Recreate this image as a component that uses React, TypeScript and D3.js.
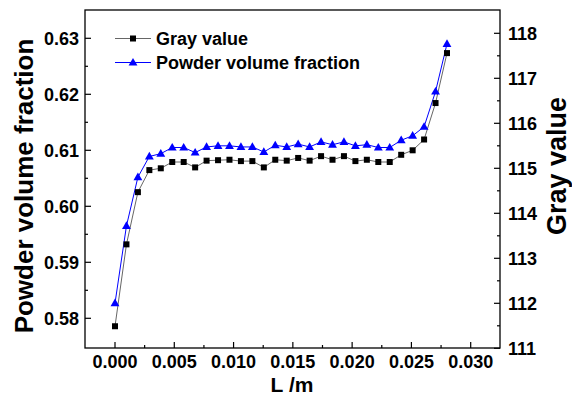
import * as d3 from "d3";

// L positions along the sample (m)
const lengths = [
  0, 0.000966, 0.001931, 0.002897, 0.003862, 0.004828, 0.005793, 0.006759,
  0.007724, 0.00869, 0.009655, 0.010621, 0.011586, 0.012552, 0.013517,
  0.014483, 0.015448, 0.016414, 0.017379, 0.018345, 0.01931, 0.020276,
  0.021241, 0.022207, 0.023172, 0.024138, 0.025103, 0.026069, 0.027034, 0.028,
];

const grayValues = [
  111.49, 113.31, 114.47, 114.96, 115.0, 115.14, 115.14, 115.02, 115.17,
  115.18, 115.19, 115.16, 115.16, 115.02, 115.19, 115.17, 115.23, 115.17,
  115.27, 115.19, 115.27, 115.16, 115.19, 115.14, 115.14, 115.3, 115.4,
  115.64, 116.45, 117.56,
];

const powderFraction = [
  0.5827, 0.5965, 0.6052, 0.6089, 0.6094, 0.6105, 0.6105, 0.6096, 0.6106,
  0.6108, 0.6108, 0.6106, 0.6106, 0.6097, 0.6109, 0.6106, 0.6111, 0.6106,
  0.6115, 0.611, 0.6115, 0.6108, 0.611, 0.6105, 0.6105, 0.6118, 0.6126,
  0.6142, 0.6205, 0.629,
];

const xTicks = [0, 0.005, 0.01, 0.015, 0.02, 0.025, 0.03];
const xMinor = [0.0025, 0.0075, 0.0125, 0.0175, 0.0225, 0.0275];
const leftTicks = [0.58, 0.59, 0.6, 0.61, 0.62, 0.63];
const leftMinor = [0.585, 0.595, 0.605, 0.615, 0.625];
const rightTicks = [111, 112, 113, 114, 115, 116, 117, 118];
const rightMinor = [111.5, 112.5, 113.5, 114.5, 115.5, 116.5, 117.5];

const W = 572;
const H = 397;
const plot = { left: 85, right: 500, top: 10, bottom: 348 };
const FONT = "'Liberation Sans', Arial, sans-serif";
const BLUE = "#0000ff";
const GRAY = "#666";

export default function App() {
  const x = d3.scaleLinear().domain([0, 0.03]).range([115, 470.7]);
  const yL = d3.scaleLinear().domain([0.58, 0.63]).range([318.3, 38.3]);
  const yR = d3.scaleLinear().domain([111, 118]).range([348.3, 33.3]);

  const grayLine = d3
    .line<number>()
    .x((_, i) => x(lengths[i]))
    .y((d) => yR(d));
  const powderLine = d3
    .line<number>()
    .x((_, i) => x(lengths[i]))
    .y((d) => yL(d));

  const tri = d3.symbol(d3.symbolTriangle, 34)();
  const sq = 6;

  return (
    <svg
      width={W}
      height={H}
      style={{ position: "absolute", left: 0, top: 0, background: "#fff" }}
      fontFamily={FONT}
      fontWeight="bold"
    >
      {/* series lines */}
      <path d={grayLine(grayValues) ?? ""} fill="none" stroke={GRAY} strokeWidth={1} />
      <path d={powderLine(powderFraction) ?? ""} fill="none" stroke={BLUE} strokeWidth={1} />

      {/* markers */}
      {grayValues.map((v, i) => (
        <rect
          key={"g" + i}
          x={x(lengths[i]) - sq / 2}
          y={yR(v) - sq / 2}
          width={sq}
          height={sq}
          fill="#000"
        />
      ))}
      {powderFraction.map((v, i) => (
        <path
          key={"p" + i}
          d={tri ?? ""}
          transform={`translate(${x(lengths[i])},${yL(v) + 0.5})`}
          fill={BLUE}
        />
      ))}

      {/* frame */}
      <rect
        x={plot.left}
        y={plot.top}
        width={plot.right - plot.left}
        height={plot.bottom - plot.top}
        fill="none"
        stroke="#000"
        strokeWidth={1.3}
      />

      {/* bottom axis */}
      {xTicks.map((t) => (
        <g key={"xt" + t}>
          <line x1={x(t)} x2={x(t)} y1={plot.bottom} y2={plot.bottom - 6} stroke="#000" strokeWidth={1.2} />
          <text x={x(t)} y={368} textAnchor="middle" fontSize={18}>
            {t.toFixed(3)}
          </text>
        </g>
      ))}
      {xMinor.map((t) => (
        <line key={"xm" + t} x1={x(t)} x2={x(t)} y1={plot.bottom} y2={plot.bottom - 3} stroke="#000" strokeWidth={1.2} />
      ))}

      {/* left axis */}
      {leftTicks.map((t) => (
        <g key={"lt" + t}>
          <line x1={plot.left} x2={plot.left + 6} y1={yL(t)} y2={yL(t)} stroke="#000" strokeWidth={1.2} />
          <text x={79} y={yL(t)} dy="0.35em" textAnchor="end" fontSize={18}>
            {t.toFixed(2)}
          </text>
        </g>
      ))}
      {leftMinor.map((t) => (
        <line key={"lm" + t} x1={plot.left} x2={plot.left + 3} y1={yL(t)} y2={yL(t)} stroke="#000" strokeWidth={1.2} />
      ))}

      {/* right axis */}
      {rightTicks.map((t) => (
        <g key={"rt" + t}>
          <line x1={plot.right} x2={plot.right - 6} y1={yR(t)} y2={yR(t)} stroke="#000" strokeWidth={1.2} />
          <text x={508} y={yR(t)} dy="0.35em" textAnchor="start" fontSize={18}>
            {t}
          </text>
        </g>
      ))}
      {rightMinor.map((t) => (
        <line key={"rm" + t} x1={plot.right} x2={plot.right - 3} y1={yR(t)} y2={yR(t)} stroke="#000" strokeWidth={1.2} />
      ))}

      {/* axis titles */}
      <text x={292} y={392} textAnchor="middle" fontSize={21}>
        L /m
      </text>
      <text transform="translate(33,186) rotate(-90)" textAnchor="middle" fontSize={26}>
        Powder volume fraction
      </text>
      <text transform="translate(566,166) rotate(-90)" textAnchor="middle" fontSize={27}>
        Gray value
      </text>

      {/* legend */}
      <line x1={115} x2={151} y1={38.5} y2={38.5} stroke={GRAY} strokeWidth={1} />
      <rect x={133 - sq / 2} y={38.5 - sq / 2} width={sq} height={sq} fill="#000" />
      <text x={156} y={38.5} dy="0.35em" fontSize={18}>
        Gray value
      </text>
      <line x1={115} x2={151} y1={62.5} y2={62.5} stroke={BLUE} strokeWidth={1} />
      <path d={tri ?? ""} transform="translate(133,63)" fill={BLUE} />
      <text x={156} y={62.5} dy="0.35em" fontSize={18}>
        Powder volume fraction
      </text>
    </svg>
  );
}
